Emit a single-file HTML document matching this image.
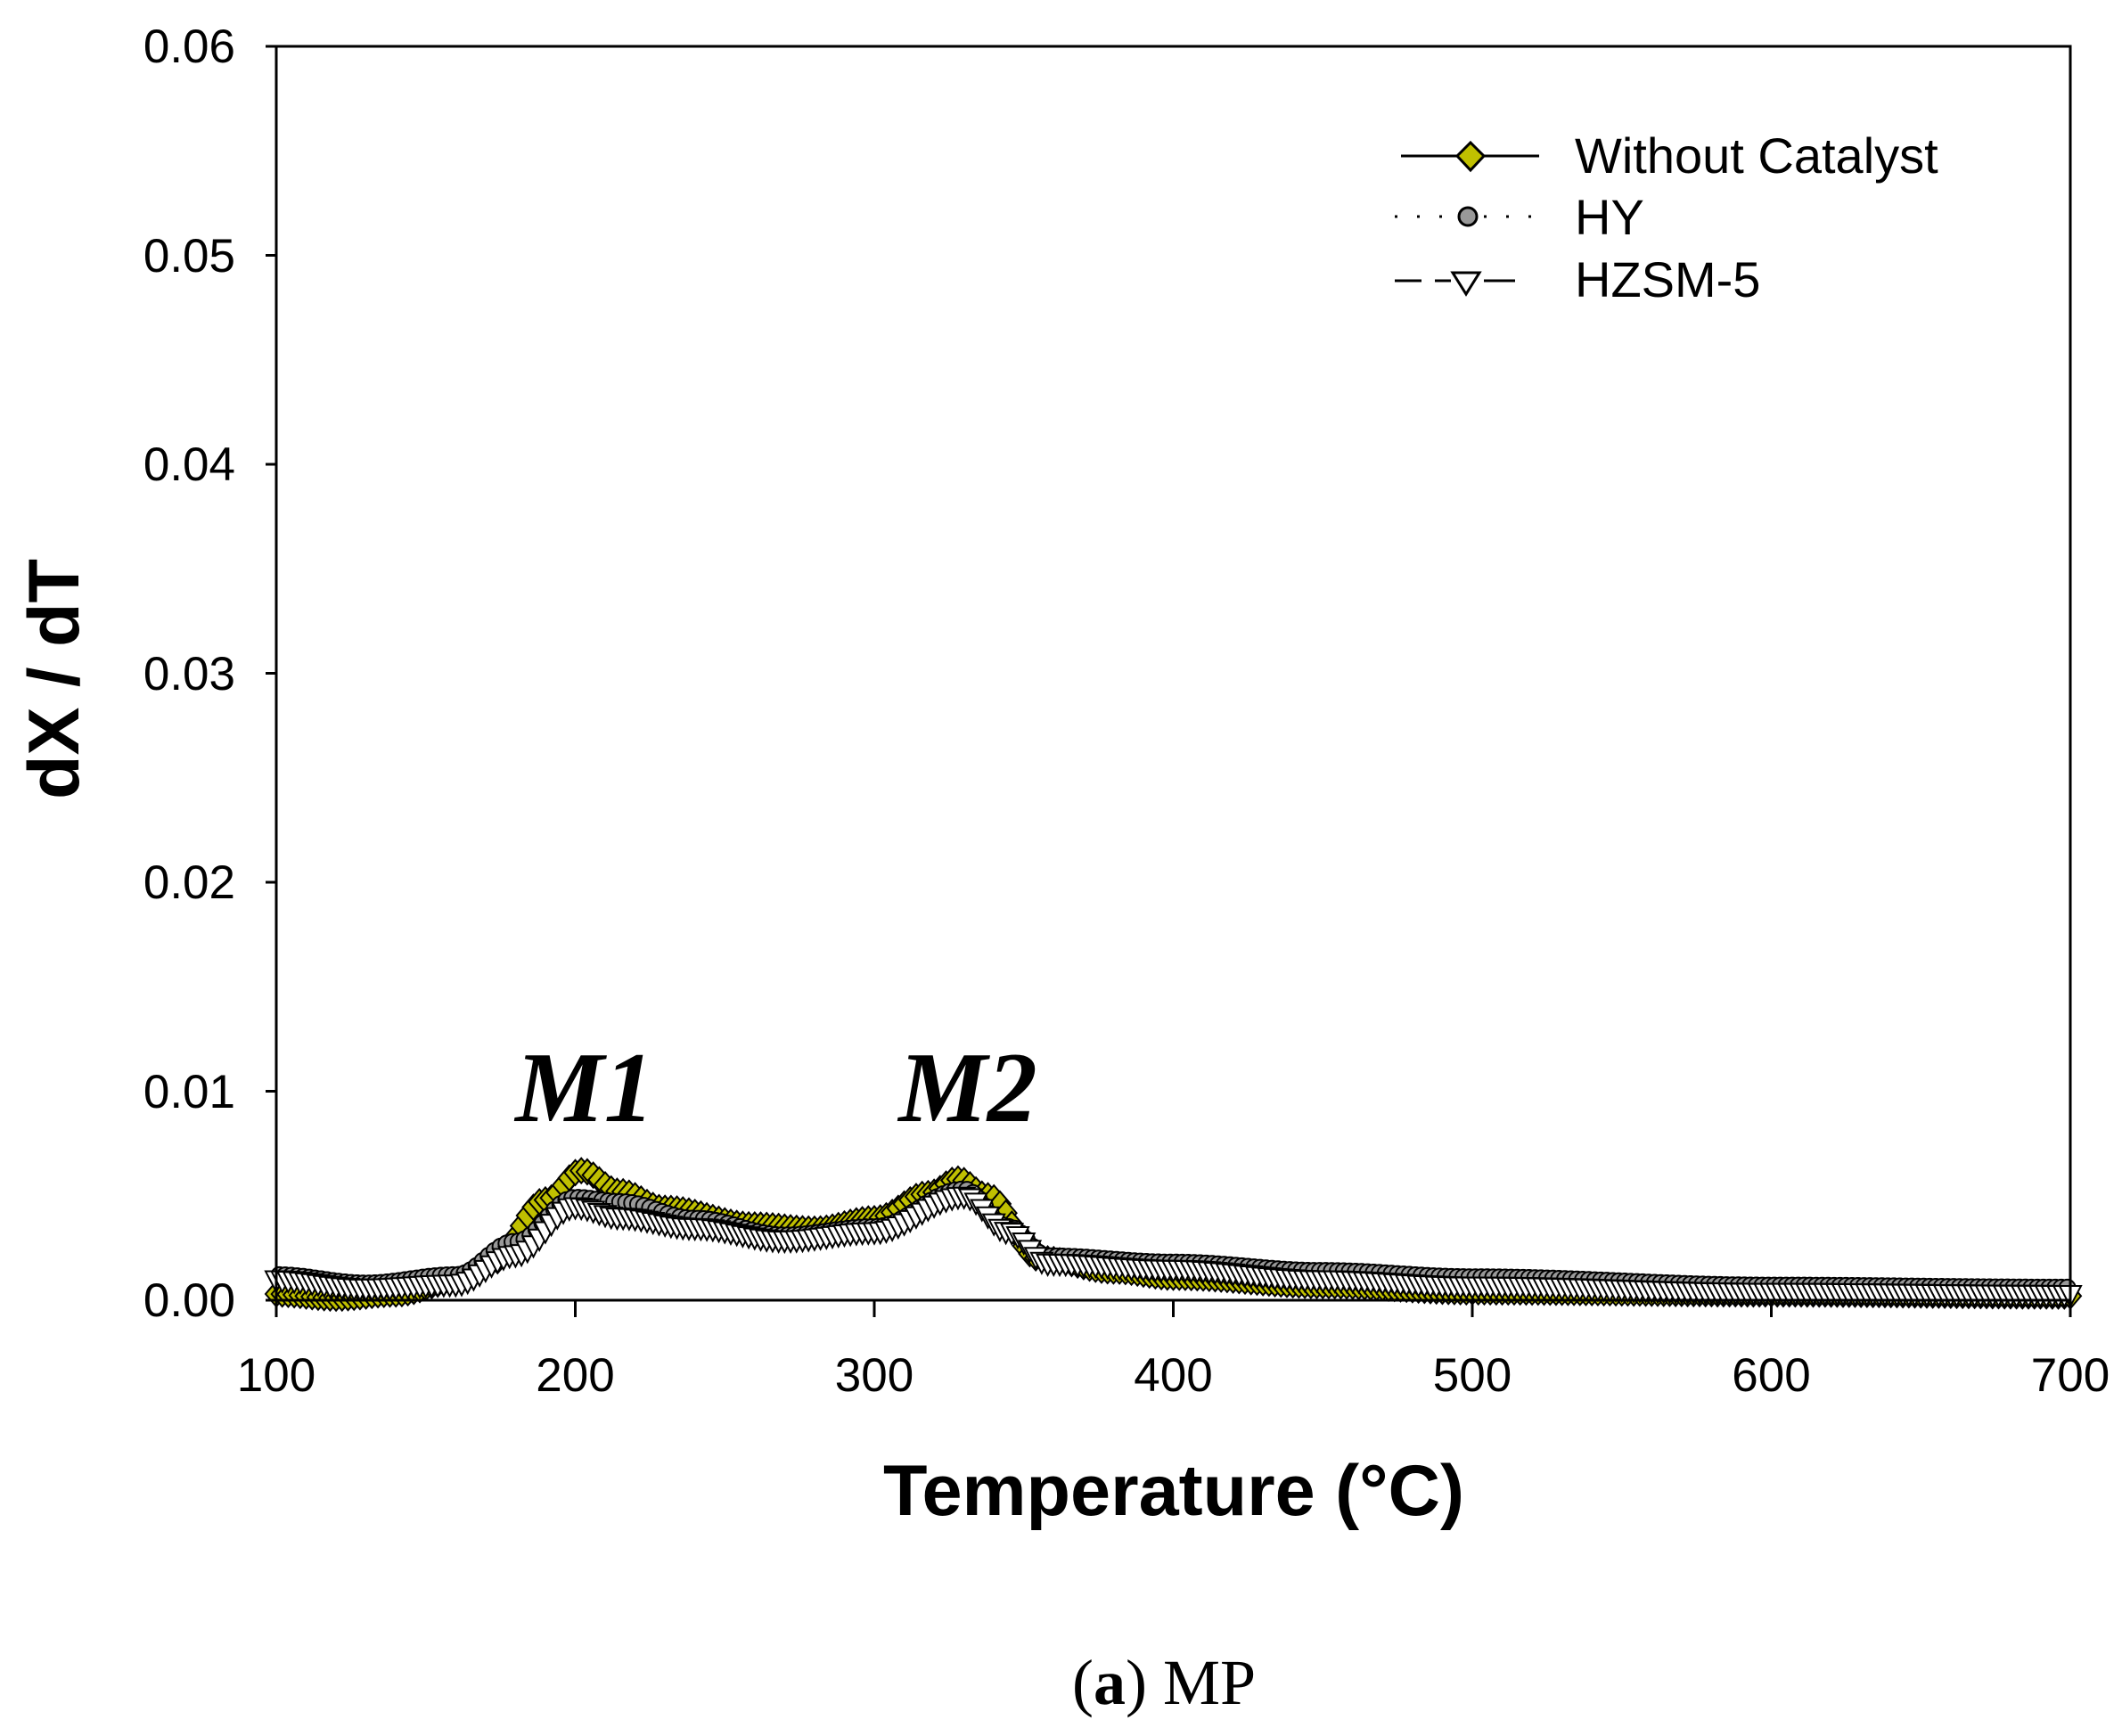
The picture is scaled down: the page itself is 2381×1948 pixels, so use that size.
<!DOCTYPE html>
<html><head><meta charset="utf-8">
<style>
html,body{margin:0;padding:0;background:#fff;}
svg{display:block;}
</style></head>
<body>
<svg id="s" width="2381" height="1948" viewBox="0 0 2381 1948" xmlns="http://www.w3.org/2000/svg">
<rect width="2381" height="1948" fill="#fff"/>
<g id="data"></g>
<rect x="310" y="52" width="2013" height="1407" fill="none" stroke="#000" stroke-width="3"/>
<g stroke="#000" stroke-width="3">
<line x1="298" y1="52" x2="310" y2="52"/>
<line x1="298" y1="286.5" x2="310" y2="286.5"/>
<line x1="298" y1="521" x2="310" y2="521"/>
<line x1="298" y1="755.5" x2="310" y2="755.5"/>
<line x1="298" y1="990" x2="310" y2="990"/>
<line x1="298" y1="1224.5" x2="310" y2="1224.5"/>
<line x1="298" y1="1459" x2="310" y2="1459"/>
<line x1="310" y1="1459" x2="310" y2="1478"/>
<line x1="645.5" y1="1459" x2="645.5" y2="1478"/>
<line x1="981" y1="1459" x2="981" y2="1478"/>
<line x1="1316.5" y1="1459" x2="1316.5" y2="1478"/>
<line x1="1652" y1="1459" x2="1652" y2="1478"/>
<line x1="1987.5" y1="1459" x2="1987.5" y2="1478"/>
<line x1="2323" y1="1459" x2="2323" y2="1478"/>
</g>
<g font-family="Liberation Sans, sans-serif" font-size="53" fill="#000" text-anchor="end">
<text x="264" y="70">0.06</text>
<text x="264" y="305">0.05</text>
<text x="264" y="539">0.04</text>
<text x="264" y="774">0.03</text>
<text x="264" y="1008">0.02</text>
<text x="264" y="1243">0.01</text>
<text x="264" y="1477">0.00</text>
</g>
<g font-family="Liberation Sans, sans-serif" font-size="53" fill="#000" text-anchor="middle">
<text x="310" y="1561">100</text>
<text x="645.5" y="1561">200</text>
<text x="981" y="1561">300</text>
<text x="1316.5" y="1561">400</text>
<text x="1652" y="1561">500</text>
<text x="1987.5" y="1561">600</text>
<text x="2323" y="1561">700</text>
</g>
<text x="1317" y="1700" font-family="Liberation Sans, sans-serif" font-weight="bold" font-size="81" text-anchor="middle">Temperature (°C)</text>
<text transform="translate(88,762) rotate(-90)" font-family="Liberation Sans, sans-serif" font-weight="bold" font-size="81" text-anchor="middle">dX / dT</text>
<text x="1306" y="1912" font-family="Liberation Serif, serif" font-size="72" text-anchor="middle">(<tspan font-weight="bold">a</tspan>) MP</text>
<g font-family="Liberation Serif, serif" font-weight="bold" font-style="italic" font-size="112" text-anchor="middle">
<text x="656" y="1258">M1</text>
<text x="1086" y="1258">M2</text>
</g>
<g stroke="#000" stroke-width="3">
<line x1="1572" y1="175" x2="1727" y2="175"/>
<polygon points="1650,160 1665,175 1650,191 1635,175" fill="#c0c000"/>
<line x1="1565" y1="243" x2="1735" y2="243" stroke-dasharray="3,22"/>
<circle cx="1647" cy="243" r="10" fill="#999"/>
<line x1="1565" y1="315" x2="1595" y2="315"/>
<line x1="1610" y1="315" x2="1628" y2="315"/>
<line x1="1665" y1="315" x2="1700" y2="315"/>
<polygon points="1630,306 1660,306 1645,330" fill="#fff"/>
</g>
<g font-family="Liberation Sans, sans-serif" font-size="56" fill="#000">
<text x="1767" y="194">Without Catalyst</text>
<text x="1767" y="263">HY</text>
<text x="1767" y="333">HZSM-5</text>
</g>
</svg>
<script>
(function(){
var X=function(t){return 310+(t-100)*3.355;};
var Y=function(v){return 1459-v*23450;};
var A=[[100,0.0003],[120,0.0001],[140,0.0003],[160,0.0009],[172,0.0018],[190,0.0048],[202,0.0062],[215,0.0052],[230,0.0044],[260,0.0036],[280,0.0034],[300,0.0039],[318,0.0051],[328,0.0058],[338,0.0050],[355,0.0020],[380,0.0014],[400,0.0011],[450,0.0007],[500,0.0004],[600,0.0003],[700,0.0002]];
var B=[[100,0.0012],[130,0.0008],[160,0.0012],[180,0.0028],[200,0.0049],[215,0.0047],[240,0.0039],[270,0.0031],[300,0.0035],[330,0.0053],[345,0.0035],[358,0.0021],[400,0.0018],[450,0.0014],[500,0.0011],[600,0.0007],[700,0.0006]];
var C=[[100,0.0010],[130,0.0006],[160,0.0008],[180,0.0022],[200,0.0045],[215,0.0040],[240,0.0035],[270,0.0029],[300,0.0033],[330,0.0050],[345,0.0033],[358,0.0018],[400,0.0015],[450,0.0010],[500,0.0007],[600,0.0004],[700,0.0003]];
function f(P,t){for(var i=0;i<P.length-1;i++){if(t>=P[i][0]&&t<=P[i+1][0]){var u=(t-P[i][0])/(P[i+1][0]-P[i][0]);u=(1-Math.cos(Math.PI*u))/2;return P[i][1]+(P[i+1][1]-P[i][1])*u;}}return P[P.length-1][1];}
var h='';
function line(P,dash){var d='';for(var t=100;t<=700;t+=2){d+=(t==100?'M':'L')+X(t).toFixed(1)+','+Y(f(P,t)).toFixed(1);}h+='<path d="'+d+'" fill="none" stroke="#000" stroke-width="3"'+(dash?' stroke-dasharray="'+dash+'"':'')+'/>';}
line(A,'');line(B,'3,10');line(C,'20,10');
var t,x,y;
for(t=100;t<=700;t+=2){x=X(t);y=Y(f(A,t));h+='<polygon points="'+x+','+(y-14)+' '+(x+12)+','+y+' '+x+','+(y+14)+' '+(x-12)+','+y+'" fill="#c0c000" stroke="#000" stroke-width="2"/>';}
for(t=101;t<=700;t+=2){x=X(t);y=Y(f(B,t));h+='<circle cx="'+x+'" cy="'+y+'" r="9" fill="#999" stroke="#000" stroke-width="2"/>';}
for(t=100;t<=700;t+=2){x=X(t);y=Y(f(C,t));h+='<polygon points="'+(x-12)+','+(y-9)+' '+(x+12)+','+(y-9)+' '+x+','+(y+14)+'" fill="#fff" stroke="#000" stroke-width="2"/>';}
document.getElementById('data').innerHTML=h;
})();
</script>
</body></html>
